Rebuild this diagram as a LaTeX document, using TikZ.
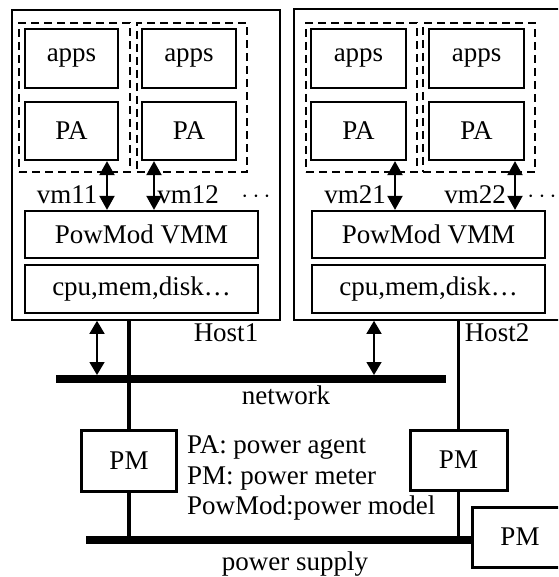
\documentclass[tikz,border=0pt]{standalone}
\usepackage{fontspec}
\setmainfont{Liberation Serif}
\usetikzlibrary{arrows.meta}

\begin{document}
\begin{tikzpicture}[x=1pt,y=-1pt,
  box node/.style={draw,line width=2.2pt,rectangle,inner sep=0pt,font=\fontsize{27}{31}\selectfont},
  vm node/.style={draw,line width=2pt,dash pattern=on 8pt off 5pt,rectangle,inner sep=0pt},
  host node/.style={draw,line width=1.6pt,rectangle,inner sep=0pt},
  label node/.style={inner sep=0pt,font=\fontsize{27}{31}\selectfont},
  bus/.style={line width=7.5pt},
  wire/.style={line width=3.5pt},
  link/.style={line width=2pt,{Triangle[length=14pt,width=15pt]}-{Triangle[length=14pt,width=15pt]}},
  net link/.style={line width=1.5pt,{Triangle[length=13pt,width=15pt]}-{Triangle[length=13pt,width=15pt]}}]

  \clip (0,0) rectangle (558,577);

  % hosts
  \node[host node,minimum width=268pt,minimum height=310pt] (h1) at (146,165) {};
  \node[host node,minimum width=280pt,minimum height=311pt] (h2) at (434,164.5) {};

  % virtual machines
  \node[vm node,minimum width=111pt,minimum height=149pt] (vm11) at (74.5,97.5) {};
  \node[vm node,minimum width=110pt,minimum height=149pt] (vm12) at (192,97.5) {};
  \node[vm node,minimum width=111pt,minimum height=149pt] (vm21) at (361.5,97.5) {};
  \node[vm node,minimum width=112pt,minimum height=149pt] (vm22) at (479,97.5) {};

  \node[box node,minimum width=93pt,minimum height=59pt] (apps11) at (71.5,58.5) {apps};
  \node[box node,minimum width=93pt,minimum height=58pt] (pa11) at (71.5,131) {PA};
  \node[box node,minimum width=94pt,minimum height=59pt] (apps12) at (189,58.5) {apps};
  \node[box node,minimum width=94pt,minimum height=58pt] (pa12) at (189,131) {PA};
  \node[box node,minimum width=95pt,minimum height=59pt] (apps21) at (358.5,58.5) {apps};
  \node[box node,minimum width=95pt,minimum height=58pt] (pa21) at (358.5,131) {PA};
  \node[box node,minimum width=95pt,minimum height=59pt] (apps22) at (476.5,58.5) {apps};
  \node[box node,minimum width=95pt,minimum height=58pt] (pa22) at (476.5,131) {PA};

  \node[box node,minimum width=233pt,minimum height=47pt] (vmm1) at (141.5,234.5) {PowMod VMM};
  \node[box node,minimum width=233pt,minimum height=48pt] (hw1) at (141.5,289) {cpu,mem,disk…};
  \node[box node,minimum width=233pt,minimum height=47pt] (vmm2) at (428.5,234.5) {PowMod VMM};
  \node[box node,minimum width=233pt,minimum height=48pt] (hw2) at (428.5,289) {cpu,mem,disk…};

  % labels
  \node[label node] (l11) at (67,195) {vm11};
  \node[label node] (l12) at (188,195) {vm12};
  \node[label node] (l21) at (355,195) {vm21};
  \node[label node] (l22) at (475,195) {vm22};
  \node[label node] (d1) at (256,197) {$\cdots$};
  \node[label node] (d2) at (542,197) {$\cdots$};
  \node[label node] (host1) at (226,333) {Host1};
  \node[label node] (host2) at (497,333) {Host2};
  \node[label node] (netl) at (286,395) {network};
  \node[label node] (supl) at (295,564) {power supply};
  \node[label node,align=left,anchor=west,font=\fontsize{27}{30.5}\selectfont] (legend) at (187,478)
    {PA: power agent\\PM: power meter\\PowMod:power model};

  % power meters
  \node[box node,line width=3pt,minimum width=95pt,minimum height=61pt] (pm1) at (129,460.5) {PM};
  \node[box node,line width=3pt,minimum width=97pt,minimum height=60pt] (pm2) at (458.5,460) {PM};
  \node[box node,line width=3pt,minimum width=96pt,minimum height=60pt] (pm3) at (520,537) {PM};

  % vm arrows
  \coordinate (x11) at (107,0);
  \coordinate (x12) at (154,0);
  \coordinate (x21) at (395,0);
  \coordinate (x22) at (515,0);
  \draw[link] (pa11.south -| x11) -- (vmm1.north -| x11);
  \draw[link] (pa12.south -| x12) -- (vmm1.north -| x12);
  \draw[link] (pa21.south -| x21) -- (vmm2.north -| x21);
  \draw[link] (pa22.south -| x22) -- (vmm2.north -| x22);

  % network and power supply
  \coordinate (net w) at (56,379);
  \coordinate (net e) at (446,379);
  \coordinate (sup w) at (86,540);
  \coordinate (a1) at (97,375);
  \coordinate (a2) at (374,375);
  \draw[bus] (net w) -- (net e);
  \draw[bus] (sup w) -- (sup w -| pm3.west);
  \draw[net link] (h1.south -| a1) -- (a1);
  \draw[net link] (h2.south -| a2) -- (a2);
  \draw[wire] (h1.south -| pm1.north) -- (pm1.north);
  \draw[wire] (pm1.south) -- (pm1.south |- sup w);
  \draw[wire] (h2.south -| pm2.north) -- (pm2.north);
  \draw[wire] (pm2.south) -- (pm2.south |- sup w);
\end{tikzpicture}
\end{document}
